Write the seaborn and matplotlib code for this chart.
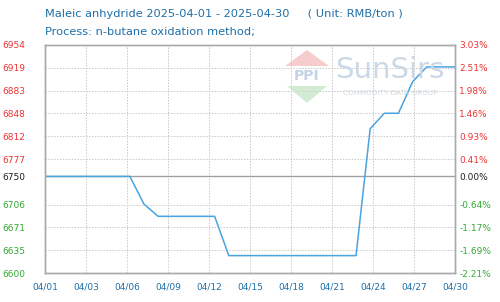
import matplotlib
matplotlib.use("Agg")
import matplotlib.pyplot as plt
from matplotlib.patches import Polygon
import seaborn as sns
import numpy as np
import pandas as pd

# ---- data ----
dates = [f"04/{d:02d}" for d in range(1, 31)]
prices = [6750, 6750, 6750, 6750, 6750, 6750, 6750,
          6707, 6688, 6688, 6688, 6688, 6688,
          6627, 6627, 6627, 6627, 6627, 6627, 6627, 6627, 6627, 6627,
          6824, 6848, 6848, 6897, 6920, 6920, 6920]
x_tick_labels = ["04/01", "04/03", "04/06", "04/09", "04/12", "04/15",
                 "04/18", "04/21", "04/24", "04/27", "04/30"]
y_tick_values = [6600, 6635, 6671, 6706, 6750, 6777, 6812, 6848, 6883, 6919, 6954]
y_grid_values = [6600, 6635.4, 6670.8, 6706.2, 6777, 6812.4, 6847.8, 6883.2, 6918.6, 6954]
y_tick_pos = [6600, 6635.4, 6670.8, 6706.2, 6750, 6777, 6812.4, 6847.8, 6883.2, 6918.6, 6954]
pct_labels = ["-2.21%", "-1.69%", "-1.17%", "-0.64%", "0.00%", "0.41%",
              "0.93%", "1.46%", "1.98%", "2.51%", "3.03%"]
base = 6750
title1 = "Maleic anhydride 2025-04-01 - 2025-04-30     ( Unit: RMB/ton )"
title2 = "Process: n-butane oxidation method;"

df = pd.DataFrame({"idx": np.arange(len(dates)), "date": dates, "price": prices})

sns.set_style("white")
plt.rcParams["font.family"] = ["DejaVu Sans"]

fig = plt.figure(figsize=(5.0, 3.02), dpi=100)
W, H = 500.0, 302.0

# watermark logo (drawn in figure pixel coords converted to fraction)
def fp(x, y):
    return (x / W, 1 - y / H)

top = Polygon([fp(285, 66), fp(307, 50), fp(329, 66)], closed=True,
              transform=fig.transFigure, facecolor="#f3b8b8", edgecolor="none",
              alpha=0.7, zorder=0)
bot = Polygon([fp(287, 86), fp(327, 86), fp(307, 103)], closed=True,
              transform=fig.transFigure, facecolor="#bfe3bf", edgecolor="none",
              alpha=0.7, zorder=0)
fig.patches.extend([top, bot])
fig.text(307 / W, 1 - 76 / H, "PPI", fontsize=10, color="#c4d3e6", ha="center",
         va="center", fontweight="bold", zorder=0)
fig.text(390 / W, 1 - 70 / H, "SunSirs", fontsize=21, color="#cbd8e5",
         ha="center", va="center", zorder=0)
fig.text(390 / W, 1 - 93 / H, "COMMODITY DATA GROUP", fontsize=5.2, color="#d3d9de",
         ha="center", va="center", zorder=0)

ax = fig.add_axes([0.09, 0.096, 0.82, 0.755])
ax.patch.set_alpha(0)

sns.lineplot(data=df, x="idx", y="price", ax=ax, color="#4aa3df", linewidth=1.1)

ax.set_xlim(0, len(dates) - 1)
ax.set_ylim(6600, 6954)
xt = np.linspace(0, len(dates) - 1, len(x_tick_labels))
ax.set_xticks(xt)
ax.set_xticklabels(x_tick_labels, color="#1f6fa8", fontsize=6.5)
ax.set_xlabel("")
ax.set_ylabel("")

# grid
for xv in xt[1:-1]:
    ax.axvline(xv, color="#c8c8c8", linestyle=(0, (1.5, 1.5)), linewidth=0.7, zorder=0)
for yv in y_grid_values[1:-1]:
    ax.axhline(yv, color="#c8c8c8", linestyle=(0, (1.5, 1.5)), linewidth=0.7, zorder=0)
ax.axhline(base, color="#a0a0a0", linewidth=1.0, zorder=1)

def col(v):
    if v > base:
        return "#ee3333"
    if v < base:
        return "#33aa33"
    return "#222222"

ax.set_yticks(y_tick_pos)
ax.set_yticklabels([str(v) for v in y_tick_values], fontsize=6.5)
for lbl, v in zip(ax.get_yticklabels(), y_tick_values):
    lbl.set_color(col(v))
ax.tick_params(axis="y", length=0, pad=14)
ax.tick_params(axis="x", length=0, pad=7)

ax2 = ax.twinx()
ax2.set_ylim(ax.get_ylim())
ax2.set_yticks(y_tick_pos)
ax2.set_yticklabels(pct_labels, fontsize=6.5)
for lbl, v in zip(ax2.get_yticklabels(), y_tick_values):
    lbl.set_color(col(v))
ax2.tick_params(axis="y", length=0, pad=3)

for a in (ax, ax2):
    for s in a.spines.values():
        s.set_color("#aaaaaa")
        s.set_linewidth(1.0)

fig.text(0.09, 0.953, title1, fontsize=8.2, color="#1f6fa8", ha="left", va="center")
fig.text(0.09, 0.893, title2, fontsize=8.2, color="#1f6fa8", ha="left", va="center")

fig.savefig("out.png", dpi=100)
